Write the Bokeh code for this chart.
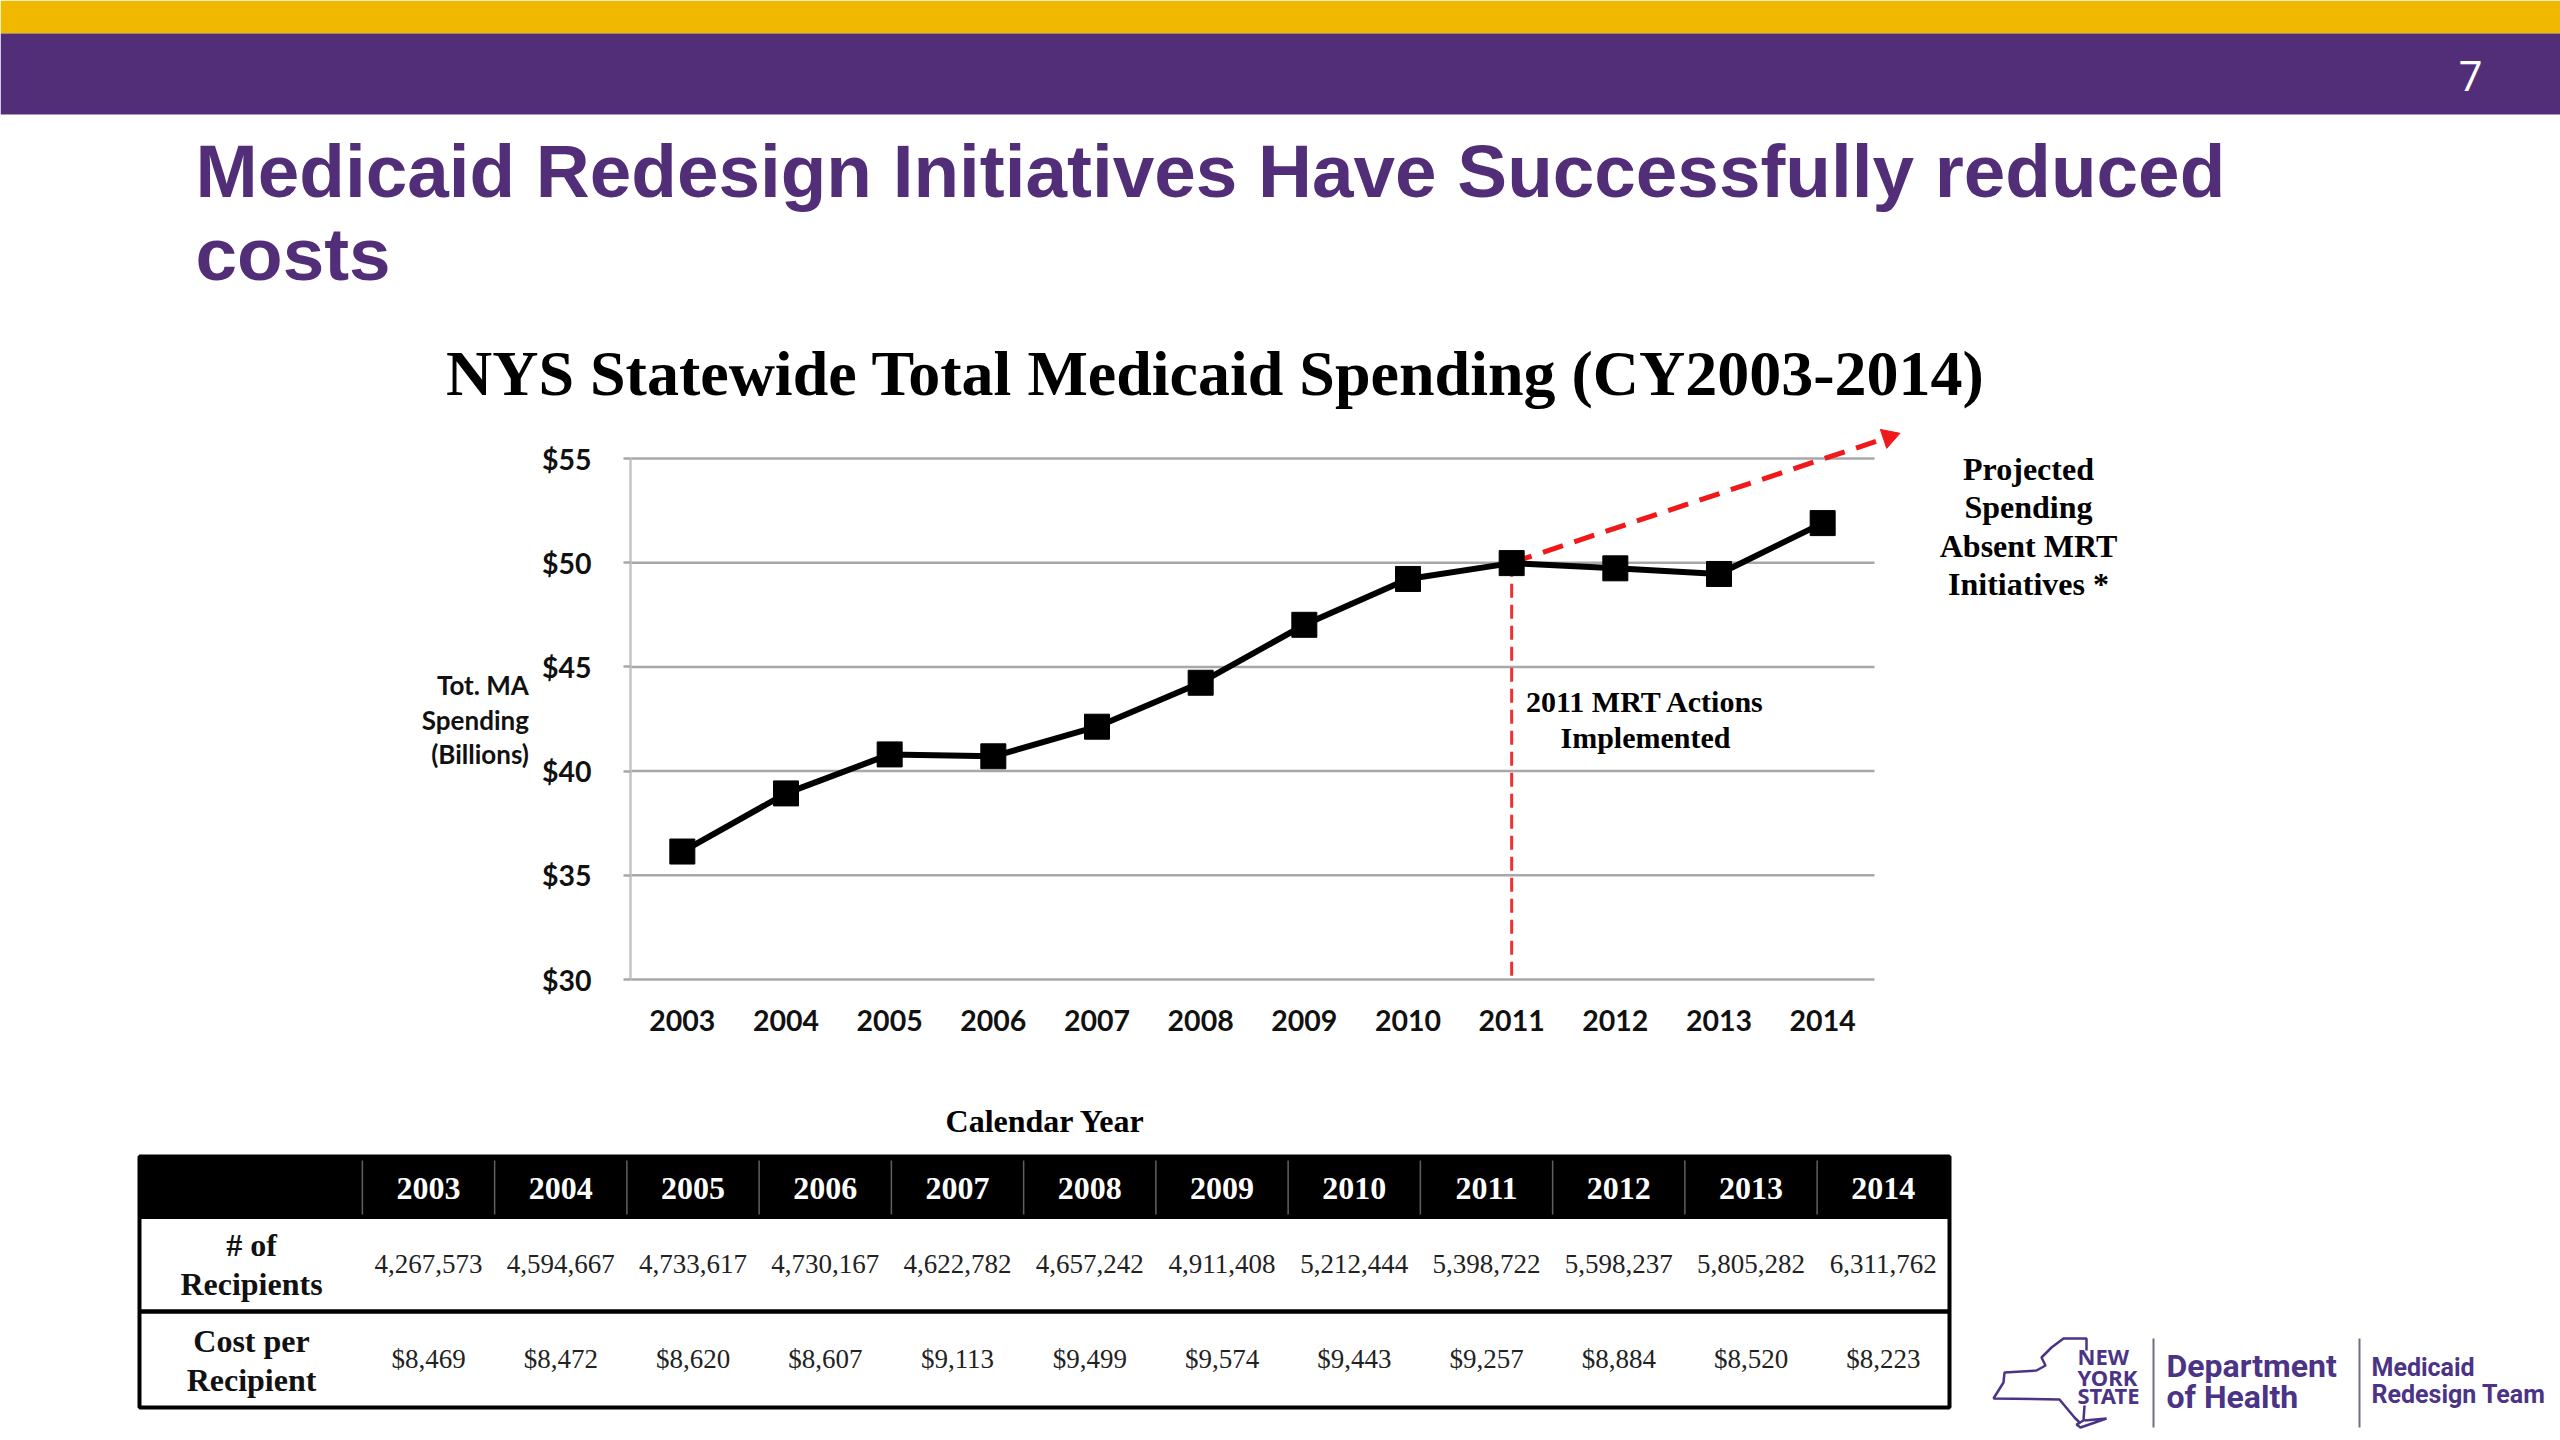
from bokeh.plotting import figure
from bokeh.layouts import column
from bokeh.models import Range1d, FixedTicker
from bokeh.core.properties import value
from bokeh.embed import file_html
from bokeh.resources import INLINE

years = [2003, 2004, 2005, 2006, 2007, 2008, 2009, 2010, 2011, 2012, 2013, 2014]
spending = [36.14, 38.93, 40.80, 40.71, 42.13, 44.24, 47.02, 49.22, 49.98, 49.73, 49.46, 51.90]
projected_x = [2011, 2014.64]
projected_y = [50.0, 56.03]
mrt_x = [2011, 2011]
mrt_y = [50.0, 30.0]
y_ticks = [30, 35, 40, 45, 50, 55]
y_labels = ["$30", "$35", "$40", "$45", "$50", "$55"]
recipients = ["4,267,573", "4,594,667", "4,733,617", "4,730,167", "4,622,782", "4,657,242",
              "4,911,408", "5,212,444", "5,398,722", "5,598,237", "5,805,282", "6,311,762"]
cost = ["$8,469", "$8,472", "$8,620", "$8,607", "$9,113", "$9,499",
        "$9,574", "$9,443", "$9,257", "$8,884", "$8,520", "$8,223"]

PURPLE = "#522e78"
GOLD = "#f0b900"
LOGO = "#4b3386"
GRID = "#a8a8a8"
SERIF = "Liberation Serif"
SANS = "Lato"

W, H = 2560, 1440
TOP, MID = 425, 1100       # rows where the three figures meet
FRAME_L, FRAME_B = 630, 979
STEP_X = (1874 - 630) / 12
STEP_Y = (979 - 458) / 25
DY = -1.5                  # baseline correction of middle-aligned text


def put_text(fig, text, x, y, size, font=SERIF, style="bold", color="black", align="center", **kw):
    fig.text(x=[x], y=[y + DY], text=[text], text_font=value(font), text_font_size=f"{size}px",
             text_font_style=style, text_color=color, text_align=align, text_baseline="middle", **kw)


# ---- slide header ----
b = figure(width=W, height=TOP, output_backend="svg", toolbar_location=None,
           x_range=Range1d(0, W), y_range=Range1d(TOP, 0), x_axis_type=None, y_axis_type=None,
           min_border=0, outline_line_color=None, frame_align=False)
b.grid.visible = False
b.quad(left=[0], right=[W], top=[0], bottom=[33], fill_color=GOLD, line_color=None)
b.quad(left=[0], right=[W], top=[33], bottom=[114], fill_color=PURPLE, line_color=None)
put_text(b, "7", 2470, 77, 42, font="Open Sans", style="normal", color="white")
put_text(b, "Medicaid Redesign Initiatives Have Successfully reduced", 195, 172, 74.7,
         font="Liberation Sans", color=PURPLE, align="left")
put_text(b, "costs", 195, 255, 74.7, font="Liberation Sans", color=PURPLE, align="left")
put_text(b, "NYS Statewide Total Medicaid Spending (CY2003-2014)", 1215, 374, 64)

# ---- chart ----
x_end = 2002.5 + (W - FRAME_L) / STEP_X
y_end = 30 + (FRAME_B - TOP) / STEP_Y
p = figure(width=W, height=MID - TOP, output_backend="svg", toolbar_location=None,
           x_range=Range1d(2002.5, x_end), y_range=Range1d(30, y_end),
           min_border_left=FRAME_L, min_border_right=0, min_border_top=0,
           min_border_bottom=MID - FRAME_B, outline_line_color=None, frame_align=False)
p.grid.visible = False
p.extra_x_ranges["px"] = Range1d(FRAME_L, W)
p.extra_y_ranges["px"] = Range1d(FRAME_B, TOP)

p.yaxis.ticker = FixedTicker(ticks=y_ticks)
p.yaxis.bounds = (30, 55)
p.yaxis.major_label_overrides = {t: l for t, l in zip(y_ticks, y_labels)}
p.yaxis.axis_line_color = "#c4c4c4"
p.yaxis.axis_line_width = 2.5
p.yaxis.major_tick_line_color = GRID
p.yaxis.major_tick_line_width = 2.5
p.yaxis.major_tick_in = 0
p.yaxis.major_tick_out = 7
p.yaxis.minor_tick_line_color = None
p.yaxis.major_label_standoff = 32
p.yaxis.axis_label = "\nTot. MA\nSpending\n(Billions)"
p.yaxis.axis_label_orientation = "horizontal"
p.yaxis.axis_label_text_font = SANS
p.yaxis.axis_label_text_font_style = "bold"
p.yaxis.axis_label_text_font_size = "26px"
p.yaxis.axis_label_text_color = "#111111"
p.yaxis.axis_label_text_line_height = 1.07
p.yaxis.axis_label_text_align = "center"
p.yaxis.axis_label_standoff = 10

p.xaxis.ticker = FixedTicker(ticks=years)
p.xaxis.bounds = (2002.5, 2014.5)
p.xaxis.major_label_overrides = {y: str(y) for y in years}
p.xaxis.axis_line_color = GRID
p.xaxis.axis_line_width = 2.5
p.xaxis.major_tick_line_color = None
p.xaxis.minor_tick_line_color = None
p.xaxis.major_label_standoff = 24
for ax in (p.xaxis, p.yaxis):
    ax.major_label_text_font = SANS
    ax.major_label_text_font_style = "bold"
    ax.major_label_text_font_size = "28.5px"
    ax.major_label_text_color = "#111111"

p.segment(x0=[2002.5] * 5, x1=[2014.5] * 5, y0=y_ticks[1:], y1=y_ticks[1:], line_color=GRID, line_width=2.5)
p.line(mrt_x, mrt_y, line_color="#f03030", line_width=3, line_dash="14 7")
p.line(projected_x, projected_y, line_color="#f01818", line_width=5, line_dash="21 12")
p.scatter(projected_x[1:], projected_y[1:], marker="triangle", size=20, angle=-1.246,
          fill_color="#f01818", line_color="#f01818")
p.line(years, spending, line_color="black", line_width=6)
p.scatter(years, spending, marker="square", size=25, fill_color="black", line_color="black")

for txt, yy in zip(["Projected", "Spending", "Absent MRT", "Initiatives *"], [470, 508, 547, 585]):
    put_text(p, txt, 2028, yy, 32, x_range_name="px", y_range_name="px")
for txt, yy in zip(["2011 MRT Actions", "Implemented"], [702, 738]):
    put_text(p, txt, 1645, yy, 30, x_range_name="px", y_range_name="px")

# ---- table and logo ----
t = figure(width=W, height=H - MID, output_backend="svg", toolbar_location=None,
           x_range=Range1d(2003 - 428 / 132.25, 2003 + (W - 428) / 132.25),
           y_range=Range1d(H, MID), x_axis_type=None, y_axis_type=None,
           min_border=0, outline_line_color=None, frame_align=False)
t.grid.visible = False
t.extra_x_ranges["px"] = Range1d(0, W)
px = dict(x_range_name="px")

put_text(t, "Calendar Year", 1045, 1122, 32, **px)
L, R, T0, T1, T2, T3 = 139, 1949, 1156, 1218, 1311, 1407
t.quad(left=[L], right=[R], top=[T0], bottom=[T1], fill_color="black", line_color="black", **px)
t.quad(left=[L], right=[R], top=[T0], bottom=[T3], fill_color=None, line_color="black", line_width=4, **px)
t.segment(x0=[y - 0.5 for y in years], x1=[y - 0.5 for y in years], y0=[T0 + 4] * 12, y1=[T1 - 4] * 12,
          line_color="#606060", line_width=1.5)
t.segment(x0=[L], x1=[R], y0=[T2], y1=[T2], line_color="black", line_width=4.5, **px)
t.text(x=years, y=[1189 + DY] * 12, text=[str(y) for y in years], text_font=value(SERIF),
       text_font_size="32px", text_font_style="bold", text_color="white",
       text_align="center", text_baseline="middle")
t.text(x=years, y=[1265 + DY] * 12, text=recipients, text_font=value(SERIF), text_font_size="27px",
       text_color="#222222", text_align="center", text_baseline="middle")
t.text(x=years, y=[1360 + DY] * 12, text=cost, text_font=value(SERIF), text_font_size="27px",
       text_color="#222222", text_align="center", text_baseline="middle")
for txt, yy in zip(["# of", "Recipients", "Cost per", "Recipient"], [1246, 1285, 1342, 1381]):
    put_text(t, txt, 251, yy, 32, color="#111111", **px)

# state outline of the logo
outline_x = [2086, 2086, 2063, 2051, 2041, 2045, 2036, 2004, 2003, 1993, 2059, 2074, 2080]
outline_y = [1350, 1338, 1338, 1347, 1357, 1365, 1370, 1372, 1382, 1398, 1399, 1417, 1423]
island_x = [2084, 2083, 2076, 2080, 2106, 2084]
island_y = [1405, 1420, 1424, 1427, 1418, 1420]
t.line(outline_x, outline_y, line_color=LOGO, line_width=2.5, **px)
t.line(island_x, island_y, line_color=LOGO, line_width=2.5, **px)
t.segment(x0=[2153, 2359], x1=[2153, 2359], y0=[1338, 1338], y1=[1427, 1427], line_color="#6f6f85", line_width=2, **px)
for txt, yy in zip(["NEW", "YORK", "STATE"], [1357, 1378, 1396]):
    put_text(t, txt, 2077, yy, 22, font="Noto Sans", color=LOGO, align="left", **px)
for txt, yy in zip(["Department", "of Health"], [1367, 1398]):
    put_text(t, txt, 2166, yy, 32, font="Roboto", color=LOGO, align="left", **px)
for txt, yy in zip(["Medicaid", "Redesign Team"], [1368, 1395]):
    put_text(t, txt, 2371, yy, 25, font="Roboto", color=LOGO, align="left", **px)

page = column(b, p, t, spacing=0)
open("out.html", "w").write(file_html(page, INLINE))
